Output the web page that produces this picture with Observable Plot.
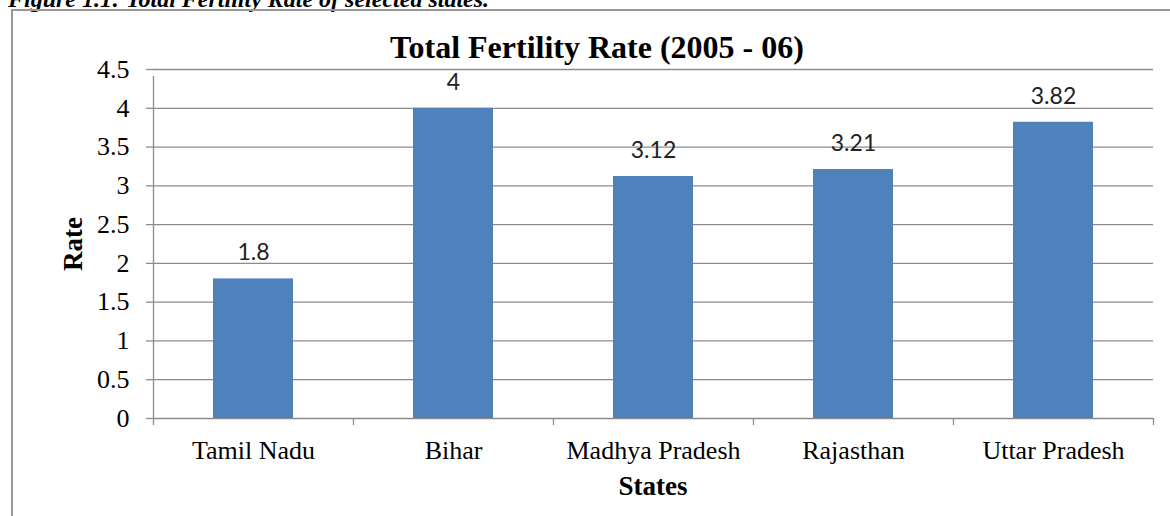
<!DOCTYPE html>
<html><head><meta charset="utf-8">
<script src="https://cdn.jsdelivr.net/npm/d3@7"></script>
<script src="https://cdn.jsdelivr.net/npm/@observablehq/plot@0.6"></script>
<style>
html,body{margin:0;padding:0;background:#fff;}
#wrap{position:relative;width:1170px;height:516px;overflow:hidden;}
#frame{position:absolute;left:11px;top:9px;width:1200px;height:600px;border:2px solid #999;box-sizing:border-box;}
#caption{position:absolute;left:8px;top:-13px;font:bold italic 24px "Liberation Serif";line-height:24px;white-space:nowrap;color:#000;}
#title{position:absolute;left:0;width:1194px;top:31px;text-align:center;font:bold 32px "Liberation Serif";line-height:32px;color:#000;}
#ylab{position:absolute;left:73px;top:244px;transform:translate(-50%,-50%) rotate(-90deg);font:bold 27px "Liberation Serif";line-height:27px;white-space:nowrap;color:#000;}
#xlab{position:absolute;left:553px;width:200px;top:473px;text-align:center;font:bold 27px "Liberation Serif";line-height:27px;color:#000;}
#chart{position:absolute;left:0;top:0;}
</style></head>
<body><div id="wrap">
<div id="caption">Figure 1.1: Total Fertility Rate of selected states.</div>
<div id="frame"></div>
<div id="chart"></div>
<div id="title">Total Fertility Rate (2005 - 06)</div>
<div id="ylab">Rate</div>
<div id="xlab">States</div>
</div>
<script>
const states = ["Tamil Nadu", "Bihar", "Madhya Pradesh", "Rajasthan", "Uttar Pradesh"];
const rates = [1.8, 4, 3.12, 3.21, 3.82];
const valueLabels = ["1.8", "4", "3.12", "3.21", "3.82"];
const yTicks = [0, 0.5, 1, 1.5, 2, 2.5, 3, 3.5, 4, 4.5];

const data = states.map((s, i) => ({state: s, rate: rates[i], label: valueLabels[i]}));

const W = 1170, H = 516, ML = 153, MR = 17, MT = 69, MB = 98;
const BW = (W - ML - MR) / states.length;
const gridColor = "#8c8c8c";

const chart = Plot.plot({
  width: W, height: H,
  marginLeft: ML, marginRight: MR, marginTop: MT, marginBottom: MB,
  style: {background: "transparent", overflow: "visible", fontFamily: "Liberation Serif"},
  x: {type: "band", domain: states, padding: 0, label: null},
  y: {domain: [0, 4.5], label: null},
  marks: [
    Plot.ruleY(yTicks, {stroke: gridColor, strokeWidth: 1.3}),
    Plot.ruleX([states[0]], {x: d => d, y1: 0, y2: 4.5, dx: -BW / 2, insetBottom: -7, stroke: gridColor, strokeWidth: 1.3}),
    Plot.ruleX(states, {x: d => d, y1: 0, y2: 0, dx: -BW / 2, insetBottom: -7, stroke: gridColor, strokeWidth: 1.3}),
    Plot.ruleX([states[states.length - 1]], {x: d => d, y1: 0, y2: 0, dx: BW / 2, insetBottom: -7, stroke: gridColor, strokeWidth: 1.3}),
    Plot.barY(data, {x: "state", y: "rate", fill: "#4F81BD", insetLeft: 60, insetRight: 60}),
    Plot.text(data, {x: "state", y: "rate", text: "label", dy: -26, fontSize: 23, fontFamily: "Lato", fill: "#222"}),
    Plot.axisY({ticks: yTicks, tickSize: 7, tickPadding: 17, stroke: gridColor, strokeWidth: 1.3, fontSize: 26, fontFamily: "Liberation Serif", fill: "#000", label: null, tickFormat: d3.format("")}),
    Plot.axisX({tickSize: 0, tickPadding: 22, fontSize: 26, fontFamily: "Liberation Serif", fill: "#000", label: null})
  ]
});
document.getElementById("chart").appendChild(chart);
</script>
</body></html>
